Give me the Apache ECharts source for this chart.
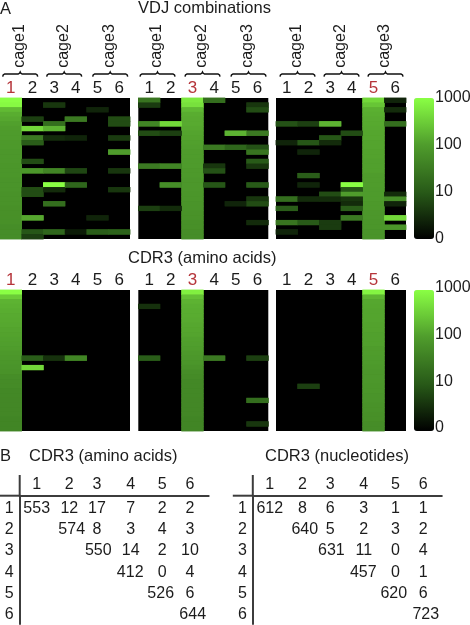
<!DOCTYPE html>
<html lang="en">

<head>
    <meta charset="UTF-8">
    <title>VDJ combinations</title>
    <style>
        html, body { margin: 0; padding: 0; background: #fff; }
        #main { width: 470px; height: 625px; }
    </style>
    <script src="https://cdn.jsdelivr.net/npm/echarts@6/dist/echarts.min.js"></script>
</head>

<body>
    <div id="main"></div>
    <script>
        // column and row labels
        var mouseLabels = ['1', '2', '3', '4', '5', '6'];
        var cageLabels = ['cage1', 'cage2', 'cage3'];
        var colorbarLabels = ['0', '10', '100', '1000'];

        // top row: each hit is [column, row, count], everything else is 0
        var vdjHits1 = [
            [1,4,5],[1,6,400],[1,8,30],[1,9,11],[1,13,7],[1,15,80],[1,19,7],[1,20,7],[1,25,130],[1,28,9],[1,29,5],
            [2,1,4],[2,5,20],[2,6,170],[2,8,3],[2,15,45],[2,18,1000],[2,19,3],[2,22,20],[2,28,15],
            [3,4,30],[3,8,2.5],[3,15,6],[3,18,15],[3,28,2],
            [4,2,2.5],[4,25,2.5],[4,28,11],
            [5,4,7],[5,5,7],[5,8,4.5],[5,11,100],[5,15,4],[5,19,4],[5,28,13]
        ];
        var vdjHits2 = [
            [0,0,25],[0,1,4.5],[0,5,45],[0,7,7],[0,14,30],[0,23,5],
            [1,5,400],[1,7,5],[1,14,45],[1,18,60],[1,23,3],
            [3,0,20],[3,10,30],[3,14,4],[3,15,8],[3,18,9],
            [4,7,170],[4,10,15],[4,22,2.5],
            [5,1,4],[5,2,7],[5,7,30],[5,10,8],[5,11,25],[5,13,10],[5,14,4],[5,18,10],[5,21,4],[5,22,7],[5,26,3]
        ];
        var vdjHits3 = [
            [0,5,8],[0,9,2.5],[0,21,20],[0,23,11],[0,26,25],[0,28,2.5],
            [1,5,5],[1,9,9],[1,11,2.5],[1,16,11],[1,18,2.5],[1,21,3],[1,26,10],
            [2,5,170],[2,8,9],[2,9,3],[2,20,7],[2,21,3],[2,26,4.5],[2,27,4.5],
            [3,7,7],[3,18,1000],[3,19,9],[3,20,100],[3,21,4],[3,22,3],[3,23,11],[3,25,30],
            [5,0,2.5],[5,2,3],[5,5,20],[5,20,3],[5,21,60],[5,22,2.5],[5,25,400],[5,27,80]
        ];
        // the bright column of each panel, top to bottom
        var vdjSelf1 = [1000,900,200,150,130,110,100,95,95,90,90,85,85,85,80,80,80,75,75,75,70,70,70,65,65,65,65,60,60,60];
        var vdjSelf2 = [600,500,190,150,140,140,130,120,115,110,105,100,100,95,95,90,90,85,85,85,80,80,75,75,70,70,65,65,60,60];
        var vdjSelf3 = [400,260,160,150,140,135,130,125,125,120,120,115,115,110,110,110,100,100,100,95,95,95,90,90,85,85,80,80,75,75];

        // second row
        var aaHits1 = [[1,14,11],[1,16,400],[2,14,3.5],[3,14,45]];
        var aaHits2 = [[0,3,3.5],[0,14,11],[3,14,30],[5,14,5],[5,23,20],[5,28,4]];
        var aaHits3 = [[1,20,5]];
        var aaSelf1 = [1000,300,170,160,150,140,135,130,120,115,110,105,100,90,85,80,75,70,60,55,55,50,50,48,48,48,48,45,45,45];
        var aaSelf2 = [700,230,170,155,150,145,140,130,125,120,110,105,100,90,85,80,70,60,55,50,50,50,50,48,48,48,48,45,45,45];
        var aaSelf3 = [800,180,130,125,120,120,120,115,115,110,110,110,100,100,95,95,90,85,85,85,80,80,75,75,70,70,65,65,60,60];

        // part B, upper triangles
        var aminoTable = [[553,12,17,7,2,2],[574,8,3,4,3],[550,14,2,10],[412,0,4],[526,6],[644]];
        var nucleotideTable = [[612,8,6,3,1,1],[640,5,2,3,2],[631,11,0,4],[457,0,1],[620,6],[723]];

        var FONT = '"Liberation Sans", Arial, sans-serif';
        var TEXT = '#1c1c1c';
        var RED = '#b5343a';
        var ROWS = 30;

        var panelLefts = [0, 138.3, 276];
        var braceLefts = [2.7, 46.7, 92.7, 140, 185, 231, 280, 324, 368];
        // table columns are not evenly spaced in the figure
        var tableColX = [17, 49.6, 77.3, 111, 142.6, 170.3];
        var tableDiagX = [17, 52, 78.6, 110.5, 141, 173];

        var grids = [], xAxes = [], yAxes = [], series = [], graphics = [];

        function toLevel(count) {
            return count < 1 ? 0 : Math.log10(count);
        }

        // zero cells stay out of the series, the grid background is the black
        function buildCells(hits, selfColumn, selfValues) {
            var cells = selfValues.map(function (v, r) {
                return [selfColumn, r, toLevel(v)];
            });
            hits.forEach(function (h) {
                cells.push([h[0], h[1], toLevel(h[2])]);
            });
            return cells;
        }

        function addPanel(left, top, hits, selfColumn, selfValues) {
            var idx = grids.length;
            grids.push({ left: left, top: top, width: 130, height: 141, show: true, backgroundColor: '#000', borderWidth: 0 });
            xAxes.push({
                gridIndex: idx, type: 'category', position: 'top', data: mouseLabels,
                axisLine: { show: false }, axisTick: { show: false }, splitLine: { show: false },
                axisLabel: {
                    interval: 0, margin: 1, fontSize: 17, fontFamily: FONT,
                    color: function (v, i) { return i === selfColumn ? RED : TEXT; }
                }
            });
            yAxes.push({
                gridIndex: idx, type: 'category', inverse: true, show: false,
                data: Array.from({ length: ROWS }, function (_, i) { return i; })
            });
            var cells = buildCells(hits, selfColumn, selfValues);
            // drawn twice so the seams between fractional rows do not show the black
            [0, 1].forEach(function () {
                series.push({
                    type: 'heatmap', xAxisIndex: idx, yAxisIndex: idx, silent: true, progressive: 0,
                    data: cells
                });
            });
        }

        function addColorbarAxis(top, height) {
            var idx = grids.length;
            grids.push({ left: 414, top: top, width: 20, height: height, outerBoundsMode: 'none' });
            xAxes.push({ gridIndex: idx, type: 'value', show: false });
            yAxes.push({
                gridIndex: idx, type: 'value', position: 'right', min: 0, max: 3, interval: 1,
                axisLine: { show: false }, axisTick: { show: false }, splitLine: { show: false },
                axisLabel: {
                    margin: 1, fontSize: 16, fontFamily: FONT, color: TEXT,
                    formatter: function (v) { return colorbarLabels[v]; }
                }
            });
        }

        function addTable(left, rows) {
            var idx = grids.length;
            grids.push({ left: left, top: 495.7, width: 189, height: 128.3 });
            var axisLine = { show: true, lineStyle: { color: '#3c3c3c', width: 2 } };
            xAxes.push({
                gridIndex: idx, type: 'value', position: 'top', min: 0, max: 189,
                axisLine: axisLine, axisTick: { show: false }, splitLine: { show: false },
                axisLabel: {
                    customValues: tableColX, margin: 3, fontSize: 16, fontFamily: FONT, color: TEXT,
                    formatter: function (v) { return mouseLabels[tableColX.indexOf(v)]; }
                }
            });
            yAxes.push({
                gridIndex: idx, type: 'value', inverse: true, min: 0.41, max: 6.43,
                axisLine: axisLine, axisTick: { show: false }, splitLine: { show: false },
                axisLabel: {
                    customValues: [1, 2, 3, 4, 5, 6], margin: 6, fontSize: 16, fontFamily: FONT, color: TEXT,
                    formatter: function (v) { return String(v); }
                }
            });
            var cells = [];
            rows.forEach(function (row, r) {
                row.forEach(function (val, k) {
                    var col = r + k;
                    cells.push([k === 0 ? tableDiagX[col] : tableColX[col], r + 1, val]);
                });
            });
            series.push({
                type: 'scatter', xAxisIndex: idx, yAxisIndex: idx, silent: true,
                symbolSize: 1, itemStyle: { color: 'transparent', opacity: 1 }, data: cells,
                label: {
                    show: true, position: 'inside', fontSize: 16, fontFamily: FONT, color: TEXT,
                    formatter: function (p) { return String(p.value[2]); }
                }
            });
            // the two table rules run past their crossing
            var style = { stroke: '#3c3c3c', lineWidth: 2 };
            graphics.push({ type: 'line', shape: { x1: left - 20, y1: 495.7, x2: left, y2: 495.7 }, style: style, silent: true });
            graphics.push({ type: 'line', shape: { x1: left, y1: 475, x2: left, y2: 496 }, style: style, silent: true });
        }

        function addBrace(left, label) {
            var w = 35, y = 74, mid = w / 2;
            graphics.push({
                type: 'polyline', silent: true,
                shape: {
                    points: [
                        [left, y + 2.6], [left + 0.5, y + 1], [left + 2, y], [left + mid - 2, y],
                        [left + mid - 0.5, y - 1], [left + mid, y - 2], [left + mid + 0.5, y - 1],
                        [left + mid + 2, y], [left + w - 2, y], [left + w - 0.5, y + 1], [left + w, y + 2.6]
                    ]
                },
                style: { stroke: '#111', lineWidth: 1.5, fill: null }
            });
            graphics.push({
                type: 'text', silent: true, x: left + mid - 0.5, y: 46, rotation: Math.PI / 2,
                style: { text: label, font: '16px ' + FONT, fill: TEXT, align: 'center', verticalAlign: 'middle' }
            });
        }

        addPanel(panelLefts[0], 98, vdjHits1, 0, vdjSelf1);
        addPanel(panelLefts[1], 98, vdjHits2, 2, vdjSelf2);
        addPanel(panelLefts[2], 98, vdjHits3, 4, vdjSelf3);
        addPanel(panelLefts[0], 290, aaHits1, 0, aaSelf1);
        addPanel(panelLefts[1], 290, aaHits2, 2, aaSelf2);
        addPanel(panelLefts[2], 290, aaHits3, 4, aaSelf3);
        addColorbarAxis(98, 141);
        addColorbarAxis(288, 140);
        addTable(19.7, aminoTable);
        addTable(252.8, nucleotideTable);
        braceLefts.forEach(function (left, i) {
            addBrace(left, cageLabels[i % 3]);
        });

        function titleAt(text, left, top) {
            return {
                text: text, left: left, top: top, padding: 0,
                textStyle: { fontSize: 16.5, fontWeight: 'normal', fontFamily: FONT, color: TEXT }
            };
        }

        function colorbar(top, seriesIndex) {
            return {
                type: 'continuous', min: 0, max: 3, calculable: false, seriesIndex: seriesIndex,
                left: 414, top: top, itemWidth: 20, itemHeight: 141, padding: 0,
                showLabel: false, hoverLink: false,
                inRange: { color: ['#000000', '#285a18', '#4f9c2c', '#8aff44'] }
            };
        }

        var myChart = echarts.init(document.getElementById('main'));
        myChart.setOption({
            animation: false,
            backgroundColor: '#fff',
            title: [
                titleAt('A', 0, 1),
                titleAt('VDJ combinations', 138, 0),
                titleAt('CDR3 (amino acids)', 128, 250),
                titleAt('B', 0, 448),
                titleAt('CDR3 (amino acids)', 29, 448),
                titleAt('CDR3 (nucleotides)', 265, 448)
            ],
            grid: grids,
            xAxis: xAxes,
            yAxis: yAxes,
            visualMap: [colorbar(98, [0, 1, 2, 3, 4, 5]), colorbar(290, [6, 7, 8, 9, 10, 11])],
            series: series,
            graphic: graphics
        });
    </script>
</body>

</html>
